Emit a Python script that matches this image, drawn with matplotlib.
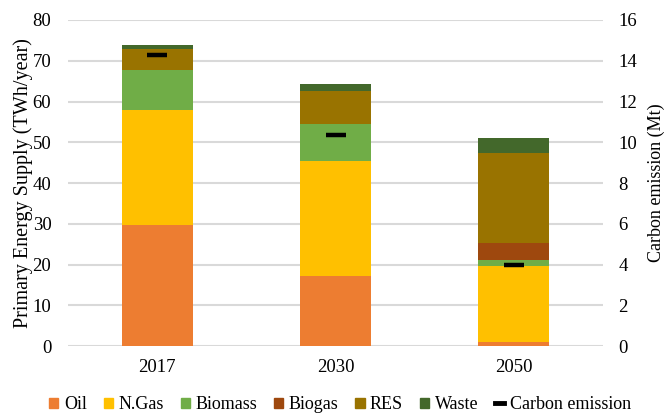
import matplotlib.pyplot as plt
from matplotlib.patches import Patch
from matplotlib.lines import Line2D
import numpy as np

years = ["2017", "2030", "2050"]
oil = [29.6, 17.3, 1.1]
n_gas = [28.3, 28.1, 18.5]
biomass = [9.8, 9.2, 1.5]
biogas = [0.0, 0.0, 4.2]
res = [5.1, 8.0, 22.0]
waste = [1.1, 1.7, 3.7]
carbon = [14.3, 10.36, 4.0]

sources = ["Oil", "N.Gas", "Biomass", "Biogas", "RES", "Waste"]
colors = ["#ED7D31", "#FFC000", "#70AD47", "#9E480E", "#997300", "#43682B"]

plt.rcParams["font.family"] = ["Liberation Serif", "DejaVu Serif"]
plt.rcParams["font.size"] = 13.5

fig = plt.figure(figsize=(6.67, 4.16), dpi=100)
ax = fig.add_axes([0.102, 0.168, 0.802, 0.784])

x = np.arange(len(years))
bottom = np.zeros(len(years))
for name, vals, c in zip(sources, [oil, n_gas, biomass, biogas, res, waste], colors):
    ax.bar(x, vals, width=0.4, bottom=bottom, color=c, zorder=3)
    bottom += np.array(vals)

ax.set_xlim(-0.5, 2.5)
ax.set_ylim(0, 80)
ax.set_yticks(range(0, 81, 10))
ax.set_xticks(x)
ax.set_xticklabels(years)
ax.yaxis.grid(True, color="#d9d9d9", linewidth=1.5, zorder=0)
ax.set_axisbelow(True)
for s in ax.spines.values():
    s.set_visible(False)
ax.tick_params(length=0, pad=12)
ax.tick_params(axis="x", pad=9)
ax.set_ylabel("Primary Energy Supply (TWh/year)", fontsize=14.5, labelpad=0)

ax2 = ax.twinx()
ax2.plot(x, carbon, linestyle="none", marker="_", markersize=14,
         markeredgewidth=3.2, color="black", zorder=5)
ax2.set_ylim(0, 16)
ax2.set_yticks(range(0, 17, 2))
for s in ax2.spines.values():
    s.set_visible(False)
ax2.tick_params(length=0, pad=11)
ax2.set_ylabel("Carbon emission (Mt)", fontsize=13, labelpad=8)

handles = [Patch(color=c) for c in colors]
handles.append(Line2D([], [], color="black", linewidth=3.5))
labels = sources + ["Carbon emission"]
fig.legend(handles, labels, loc="center", bbox_to_anchor=(0.510, 0.027),
           ncol=7, frameon=False, handlelength=0.5, handleheight=0.5,
           handletextpad=0.3, columnspacing=0.95, fontsize=13)

fig.savefig("out.png", dpi=100)
